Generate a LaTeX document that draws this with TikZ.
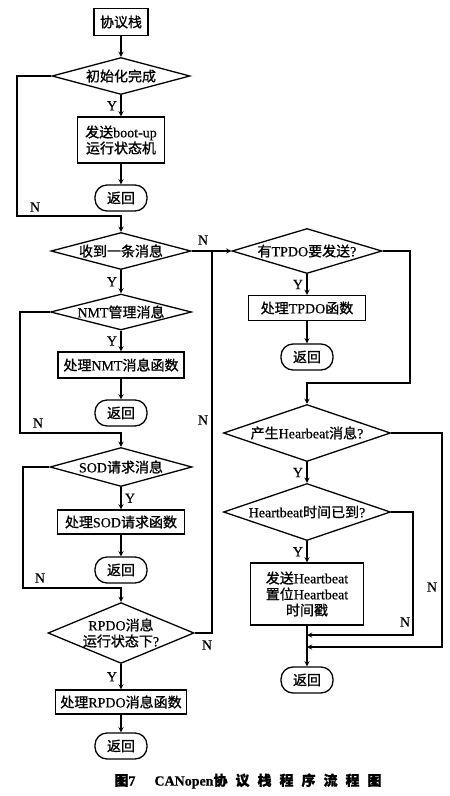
\documentclass[tikz,border=0pt]{standalone}
\usepackage{fontspec}
\setmainfont{Liberation Serif}[FakeBold=0.6]
\newfontfamily\cjk[FakeBold=1]{Noto Sans CJK SC}
\newcommand{\zh}[1]{{\cjk #1}}
\usetikzlibrary{shapes.geometric}
\begin{document}
\begin{tikzpicture}
[x=1pt,y=-1pt,font=\fontsize{14}{16}\selectfont,
  boxdecorate/.style={shape=rectangle,draw,line width=1.3pt,align=center,inner sep=2pt},%
  decidedecorate/.style={shape=diamond,draw,line width=1.3pt,align=center,inner sep=0pt,aspect=3.8},%
  returndecorate/.style={shape=rectangle,draw,line width=1.3pt,rounded corners=12pt,
    minimum width=52pt,minimum height=26pt},%
  arrowdecorate/.style={->,>=stealth,line width=1.3pt},%
  linedecorate/.style={line width=1.3pt}]
\path[use as bounding box,fill=white] (0,0) rectangle (450,796);
%% left column
\node (stack) at (121,22) [boxdecorate,minimum width=54pt,minimum height=27pt] {\zh{协议栈}};
\node (init) at (121,76) [decidedecorate,minimum width=138pt,minimum height=37pt] {\zh{初始化完成}};
\node (boot) at (121,140) [boxdecorate,minimum width=87pt,minimum height=46pt] {\zh{发送}boot-up\\\zh{运行状态机}};
\node (ret1) at (121,198) [returndecorate] {\zh{返回}};
\node (recv) at (121,251) [decidedecorate,minimum width=140pt,minimum height=37pt] {\zh{收到一条消息}};
\node (nmt) at (121,312) [decidedecorate,minimum width=141pt,minimum height=35pt] {NMT\zh{管理消息}};
\node (nmtf) at (121,365) [boxdecorate,minimum width=126pt,minimum height=26pt] {\zh{处理}NMT\zh{消息函数}};
\node (ret2) at (121,413) [returndecorate] {\zh{返回}};
\node (sod) at (121,467) [decidedecorate,minimum width=142pt,minimum height=39pt] {SOD\zh{请求消息}};
\node (sodf) at (121,522) [boxdecorate,minimum width=127pt,minimum height=24pt] {\zh{处理}SOD\zh{请求函数}};
\node (ret3) at (121,570) [returndecorate] {\zh{返回}};
\node (rpdo) at (121,633) [decidedecorate,aspect=2.4,minimum width=144pt,minimum height=60pt] {RPDO\zh{消息}\\\zh{运行状态下}?};
\node (rpdof) at (121,702) [boxdecorate,minimum width=131pt,minimum height=24pt] {\zh{处理}RPDO\zh{消息函数}};
\node (ret4) at (121,746) [returndecorate] {\zh{返回}};
%% right column
\node (tpdo) at (307,251) [decidedecorate,minimum width=150pt,minimum height=45pt] {\zh{有}TPDO\zh{要发送}?};
\node (tpdof) at (307,308) [boxdecorate,minimum width=117pt,minimum height=25pt] {\zh{处理}TPDO\zh{函数}};
\node (ret5) at (307,357) [returndecorate] {\zh{返回}};
\node (hb) at (307,433) [decidedecorate,minimum width=167pt,minimum height=57pt] {\zh{产生}Hearbeat\zh{消息}?};
\node (hbt) at (307,512) [decidedecorate,minimum width=167pt,minimum height=57pt] {Heartbeat\zh{时间已到}?};
\node (hbf) at (307,594) [boxdecorate,minimum width=113pt,minimum height=62pt] {\zh{发送}Heartbeat\\\zh{置位}Heartbeat\\\zh{时间戳}};
\node (ret6) at (307,680) [returndecorate] {\zh{返回}};
%% loop corners
\coordinate (initloop) at (17,216);
\coordinate (nmtloop) at (20,433);
\coordinate (sodloop) at (23,588);
\coordinate (busjoin) at (212,251);
\coordinate (tpdoloop) at (410,383);
\coordinate (hbloop) at (442,647);
\coordinate (hbtloop) at (413,635);
%% straight edges
\path
\foreach \startnode/\endnode in {stack/init, boot/ret1, nmtf/ret2, sodf/ret3,
  rpdof/ret4, tpdof/ret5, hbf/ret6} {
  (\startnode) edge[arrowdecorate] (\endnode)
}
\foreach \startnode/\endnode/\side in {init/boot/left, recv/nmt/left, nmt/nmtf/left,
  sod/sodf/right, rpdo/rpdof/left, tpdo/tpdof/left, hb/hbt/left, hbt/hbf/left} {
  (\startnode) edge[arrowdecorate] node[\side] {Y} (\endnode)
};
%% N branches
\draw[arrowdecorate] (init.west) -| (initloop) -- (initloop -| recv.north) -- (recv.north);
\draw[arrowdecorate] (nmt.west) -| (nmtloop) -- (nmtloop -| sod.north) -- (sod.north);
\draw[arrowdecorate] (sod.west) -| (sodloop) -- (sodloop -| rpdo.north) -- (rpdo.north);
\draw[arrowdecorate] (recv.east) -- (tpdo.west);
\draw[linedecorate] (rpdo.east) -| (busjoin);
\draw[arrowdecorate] (tpdo.east) -| (tpdoloop) -- (tpdoloop -| hb.north) -- (hb.north);
\draw[arrowdecorate] (hb.east) -| (hbloop) -- (hbloop -| hbf.south);
\draw[arrowdecorate] (hbt.east) -| (hbtloop) -- (hbtloop -| hbf.south);
%% N labels
\foreach \labelname/\x/\y in {initno/35/207, recvno/203/240, nmtno/38/423, sodno/40/578,
  busno/203/420, rpdono/207/645, hbno/432/587, hbtno/405/622} {
  \node (\labelname) at (\x,\y) {N};
}
%% caption
\node (caption) at (248,781) [font=\fontsize{14}{16}\selectfont\bfseries]
  {\zh{图}7\hspace{19pt}CANopen\zh{协\hspace{8pt}议\hspace{8pt}栈\hspace{8pt}程\hspace{8pt}序\hspace{8pt}流\hspace{8pt}程\hspace{8pt}图}};
\end{tikzpicture}
\end{document}
